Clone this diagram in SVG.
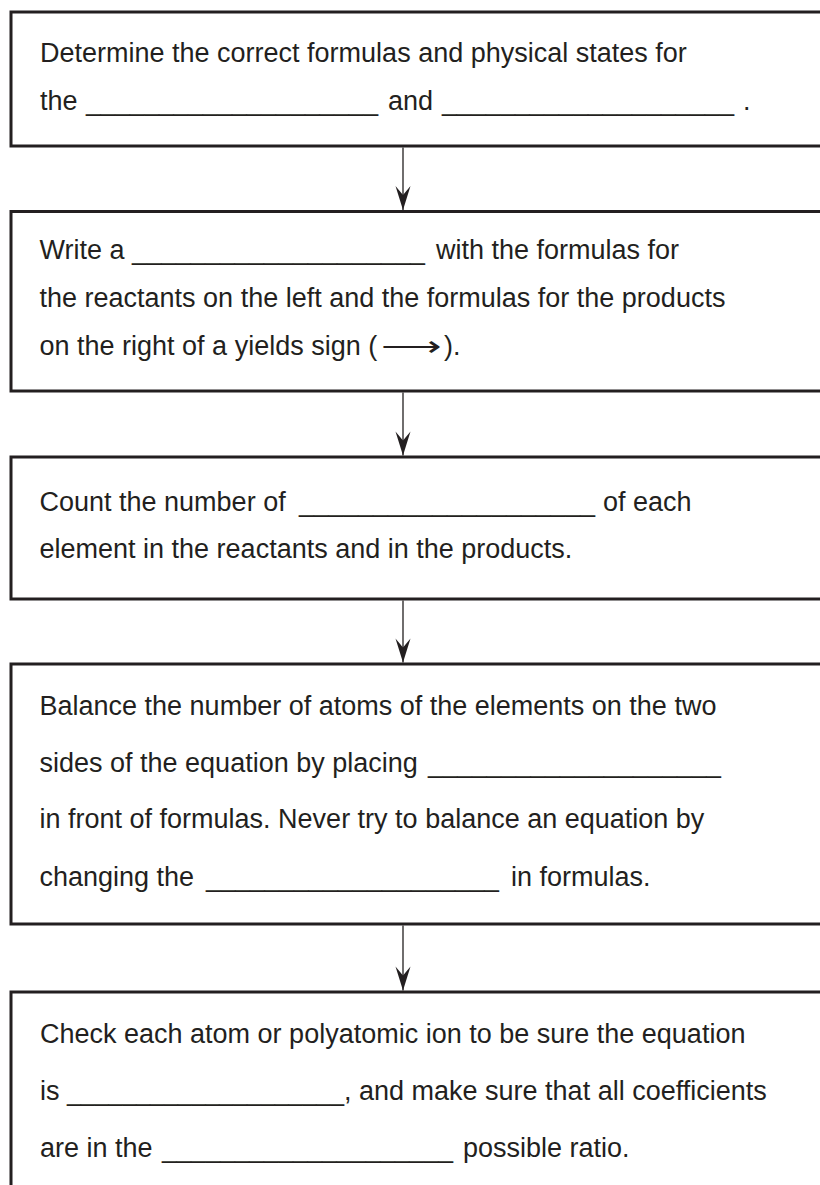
<svg xmlns="http://www.w3.org/2000/svg" width="820" height="1185" viewBox="0 0 820 1185">
  <style>
    .box { fill: #ffffff; stroke: #231f20; stroke-width: 3; }
    .t { font-family: "Liberation Sans", Arial, sans-serif; font-size: 27px; fill: #231f20; }
    .conn { stroke: #231f20; stroke-width: 1.3; fill: none; marker-end: url(#arr); }
  </style>
  <defs>
    <marker id="arr" markerUnits="userSpaceOnUse" viewBox="-25 -8 26 16" refX="0" refY="0" markerWidth="26" markerHeight="16" orient="auto" overflow="visible">
      <path d="M0,0 L-24,-7.5 L-15,0 L-24,7.5 Z" fill="#231f20"/>
    </marker>
  </defs>
  <rect width="820" height="1185" fill="#ffffff"/>

  <g id="step1">
    <rect class="box" x="11" y="12" width="840" height="134"/>
    <text class="t" x="40" y="62">Determine the correct formulas and physical states for</text>
    <text class="t" y="110"><tspan x="40">the</tspan><tspan x="86" textLength="292" lengthAdjust="spacingAndGlyphs">____________________</tspan><tspan x="388">and</tspan><tspan x="442" textLength="292" lengthAdjust="spacingAndGlyphs">____________________</tspan><tspan x="743">.</tspan></text>
  </g>

  <g id="step2">
    <rect class="box" x="11" y="211.5" width="840" height="179.5"/>
    <text class="t" y="259"><tspan x="39.5">Write a</tspan><tspan x="132" textLength="293" lengthAdjust="spacingAndGlyphs">____________________</tspan><tspan x="436">with the formulas for</tspan></text>
    <text class="t" x="39.5" y="307">the reactants on the left and the formulas for the products</text>
    <text class="t" y="355"><tspan x="39.5">on the right of a yields sign (</tspan><tspan x="381" textLength="61" lengthAdjust="spacingAndGlyphs">⟶</tspan><tspan x="444">).</tspan></text>
  </g>

  <g id="step3">
    <rect class="box" x="11" y="457" width="840" height="142"/>
    <text class="t" y="511"><tspan x="39.5">Count the number of</tspan><tspan x="299" textLength="296" lengthAdjust="spacingAndGlyphs">____________________</tspan><tspan x="603">of each</tspan></text>
    <text class="t" x="39.5" y="558">element in the reactants and in the products.</text>
  </g>

  <g id="step4">
    <rect class="box" x="11" y="664" width="840" height="260"/>
    <text class="t" x="39.5" y="715">Balance the number of atoms of the elements on the two</text>
    <text class="t" y="772"><tspan x="39.5">sides of the equation by placing</tspan><tspan x="428" textLength="293" lengthAdjust="spacingAndGlyphs">____________________</tspan></text>
    <text class="t" x="39.5" y="828">in front of formulas. Never try to balance an equation by</text>
    <text class="t" y="886"><tspan x="39.5">changing the</tspan><tspan x="206" textLength="293" lengthAdjust="spacingAndGlyphs">____________________</tspan><tspan x="511">in formulas.</tspan></text>
  </g>

  <g id="step5">
    <rect class="box" x="11" y="992" width="840" height="220"/>
    <text class="t" x="40" y="1043">Check each atom or polyatomic ion to be sure the equation</text>
    <text class="t" y="1100"><tspan x="40">is</tspan><tspan x="67" textLength="277" lengthAdjust="spacingAndGlyphs">____________________</tspan><tspan x="344">, and make sure that all coefficients</tspan></text>
    <text class="t" y="1157"><tspan x="40">are in the</tspan><tspan x="162" textLength="291" lengthAdjust="spacingAndGlyphs">____________________</tspan><tspan x="463">possible ratio.</tspan></text>
  </g>

  <g id="connectors">
    <line class="conn" x1="403" y1="147.5" x2="403" y2="210"/>
    <line class="conn" x1="403" y1="392.5" x2="403" y2="455.5"/>
    <line class="conn" x1="403" y1="600.5" x2="403" y2="662.5"/>
    <line class="conn" x1="403" y1="925.5" x2="403" y2="990.5"/>
  </g>
</svg>
